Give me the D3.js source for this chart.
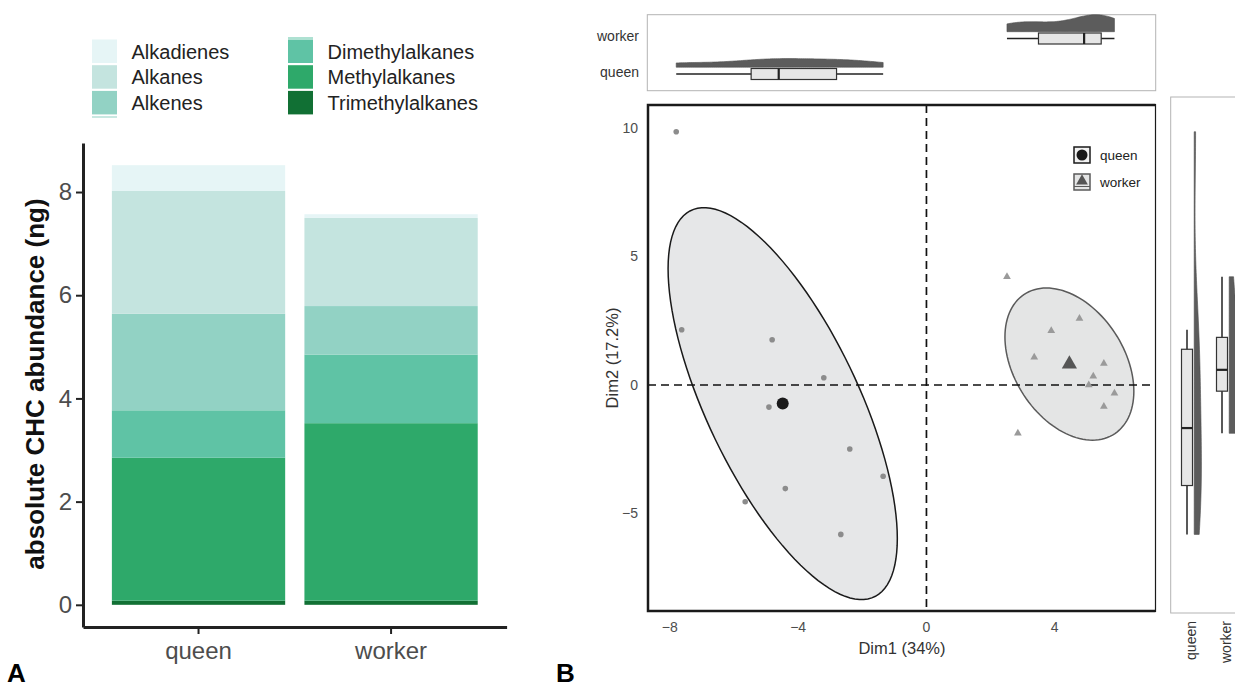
<!DOCTYPE html>
<meta charset="utf-8">
<script src="https://d3js.org/d3.v7.min.js"></script>
<style>
body { margin: 0; background: white; }
svg { font-family: 'Liberation Sans', Arial, sans-serif; }
</style>
<body>
<div id="fig"></div>
<script>
// ---- panel A: absolute CHC abundance (ng), stacked bottom-up
const groups = ["queen", "worker"];
const classes = ["Trimethylalkanes", "Methylalkanes", "Dimethylalkanes", "Alkenes", "Alkanes", "Alkadienes"];
const queenAbundance = [0.08, 2.77, 0.92, 1.87, 2.38, 0.50];
const workerAbundance = [0.08, 3.44, 1.33, 0.94, 1.71, 0.07];
const classColors = ["#117034", "#2ea96a", "#5fc3a5", "#92d2c4", "#c4e4df", "#e6f5f6"];
const legendOrder = ["Alkadienes", "Alkanes", "Alkenes", "Dimethylalkanes", "Methylalkanes", "Trimethylalkanes"];
const abundanceTicks = [0, 2, 4, 6, 8];

// ---- panel B: PCA individuals
const queenDim1 = [-7.80, -7.63, -4.81, -3.20, -4.91, -2.39, -1.35, -4.40, -5.65, -2.67];
const queenDim2 = [9.85, 2.15, 1.76, 0.28, -0.86, -2.49, -3.55, -4.03, -4.54, -5.81];
const workerDim1 = [2.51, 4.77, 3.89, 3.36, 5.53, 5.20, 5.06, 5.86, 5.53, 2.85];
const workerDim2 = [4.21, 2.59, 2.11, 1.08, 0.84, 0.34, 0.00, -0.32, -0.84, -1.88];
const dim1Ticks = [-8, -4, 0, 4];
const dim2Ticks = [-5, 0, 5, 10];

const svg = d3.select("#fig").append("svg").attr("width", 1235).attr("height", 688);

// ================= panel A =================
const table = groups.map((g, gi) => {
  const row = {group: g};
  const vals = gi == 0 ? queenAbundance : workerAbundance;
  classes.forEach((c, i) => row[c] = vals[i]);
  return row;
});
const color = d3.scaleOrdinal().domain(classes).range(classColors);

const xA = d3.scaleBand().domain(groups).range([83, 506.6]).paddingInner(0.1).paddingOuter(0.15);
const yA = d3.scaleLinear().domain([-0.43, 8.95]).range([627, 143]);

svg.append("g").selectAll("g")
  .data(d3.stack().keys(classes)(table))
  .join("g")
    .attr("fill", d => color(d.key))
  .selectAll("rect")
  .data(d => d)
  .join("rect")
    .attr("x", d => xA(d.data.group))
    .attr("width", xA.bandwidth())
    .attr("y", d => yA(d[1]))
    .attr("height", d => yA(d[0]) - yA(d[1]));

const axA = svg.append("g").attr("transform", "translate(83,0)")
  .call(d3.axisLeft(yA).tickValues(abundanceTicks).tickSize(7).tickSizeOuter(0).tickPadding(4));
const axAx = svg.append("g").attr("transform", "translate(0,627)")
  .call(d3.axisBottom(xA).tickSize(7).tickSizeOuter(0).tickPadding(8));
[axA, axAx].forEach(a => {
  a.select(".domain").attr("stroke", "#222").attr("stroke-width", 3);
  a.selectAll(".tick line").attr("stroke", "#222").attr("stroke-width", 2);
  a.selectAll(".tick text").attr("fill", "#4d4d4d").style("font-size", "24px");
});

svg.append("text")
  .attr("transform", "translate(43.5,384) rotate(-90)")
  .attr("text-anchor", "middle")
  .style("font-size", "26px").style("font-weight", "bold").attr("fill", "#111")
  .text("absolute CHC abundance (ng)");

// legend
const legA = svg.append("g");
legendOrder.forEach((c, i) => {
  const col = Math.floor(i / 3), row = i % 3;
  const lx = [92, 288][col], ly = 39.5 + row * 25.7;
  legA.append("rect").attr("x", lx).attr("y", ly).attr("width", 25).attr("height", 23.5).attr("fill", color(c));
  legA.append("text").attr("x", lx + 39.5).attr("y", ly + 19)
    .style("font-size", "20px").attr("fill", "#222").text(c);
});
// thin key edges that show in the original legend
legA.append("rect").attr("x", 92).attr("y", 116.5).attr("width", 25).attr("height", 1).attr("fill", color("Alkenes"));
legA.append("rect").attr("x", 288).attr("y", 37.5).attr("width", 25).attr("height", 1).attr("fill", color("Dimethylalkanes"));

svg.append("text").attr("x", 7).attr("y", 682).style("font-size", "26px").style("font-weight", "bold").text("A");
svg.append("text").attr("x", 556).attr("y", 682).style("font-size", "26px").style("font-weight", "bold").text("B");

// ================= panel B =================
const xB = d3.scaleLinear().domain([-8.68, 7.14]).range([648, 1155.5]);
const yB = d3.scaleLinear().domain([-8.79, 10.89]).range([611, 105]);

const queenPts = queenDim1.map((v, i) => ({x: v, y: queenDim2[i]}));
const workerPts = workerDim1.map((v, i) => ({x: v, y: workerDim2[i]}));

function ellipsePoints(xs, ys, r) {
  const mx = d3.mean(xs), my = d3.mean(ys), n = xs.length;
  const sxx = d3.sum(xs, v => (v - mx) ** 2) / (n - 1);
  const syy = d3.sum(ys, v => (v - my) ** 2) / (n - 1);
  const sxy = d3.sum(xs, (v, i) => (v - mx) * (ys[i] - my)) / (n - 1);
  const a = Math.sqrt(sxx), b = sxy / a, c = Math.sqrt(syy - b * b);
  return d3.range(120).map(i => {
    const t = 2 * Math.PI * i / 120;
    return [mx + r * a * Math.cos(t), my + r * (b * Math.cos(t) + c * Math.sin(t))];
  });
}
const ellipseScale = 1.66;
const ellLine = d3.line().x(d => xB(d[0])).y(d => yB(d[1])).curve(d3.curveLinearClosed);

svg.append("path").attr("d", ellLine(ellipsePoints(queenDim1, queenDim2, ellipseScale)))
  .attr("fill", "#e6e7e8").attr("stroke", "#1a1a1a").attr("stroke-width", 1.5);
svg.append("path").attr("d", ellLine(ellipsePoints(workerDim1, workerDim2, ellipseScale)))
  .attr("fill", "#e4e5e5").attr("stroke", "#5a5a5a").attr("stroke-width", 1.5);

// dashed reference lines
svg.append("line").attr("x1", 648).attr("x2", 1155.5).attr("y1", yB(0)).attr("y2", yB(0))
  .attr("stroke", "#111").attr("stroke-width", 1.7).attr("stroke-dasharray", "8,5");
svg.append("line").attr("x1", xB(0)).attr("x2", xB(0)).attr("y1", 105).attr("y2", 611)
  .attr("stroke", "#111").attr("stroke-width", 1.7).attr("stroke-dasharray", "8,5");

// individuals
svg.append("g").selectAll("circle").data(queenPts).join("circle")
  .attr("cx", d => xB(d.x)).attr("cy", d => yB(d.y)).attr("r", 2.8).attr("fill", "#8c8c8c");
const triSmall = d3.symbol(d3.symbolTriangle, 26);
svg.append("g").selectAll("path").data(workerPts).join("path")
  .attr("transform", d => `translate(${xB(d.x)},${yB(d.y)})`).attr("d", triSmall).attr("fill", "#9a9a9a");

// group means
svg.append("circle").attr("cx", xB(d3.mean(queenDim1))).attr("cy", yB(d3.mean(queenDim2)))
  .attr("r", 6).attr("fill", "#1a1a1a");
svg.append("path").attr("transform", `translate(${xB(d3.mean(workerDim1))},${yB(d3.mean(workerDim2))})`)
  .attr("d", d3.symbol(d3.symbolTriangle, 100)).attr("fill", "#555");

// frame
const frame = svg.append("g").attr("stroke", "#1a1a1a").attr("fill", "none");
frame.append("path").attr("d", "M1155.5,105H648V611H1155.5").attr("stroke-width", 2.5);
frame.append("line").attr("x1", 1155.5).attr("x2", 1155.5).attr("y1", 104).attr("y2", 612).attr("stroke-width", 1.2);

// tick labels + titles
const minus = d => d3.format("")(d).replace("-", "\u2212");
svg.append("g").selectAll("text").data(dim2Ticks).join("text")
  .attr("x", 638).attr("y", d => yB(d)).attr("dy", "0.35em").attr("text-anchor", "end")
  .style("font-size", "14px").attr("fill", "#4d4d4d").text(minus);
svg.append("g").selectAll("text").data(dim1Ticks).join("text")
  .attr("x", d => xB(d)).attr("y", 632).attr("text-anchor", "middle")
  .style("font-size", "14px").attr("fill", "#4d4d4d").text(minus);
svg.append("text").attr("x", 902).attr("y", 654).attr("text-anchor", "middle")
  .style("font-size", "16.5px").attr("fill", "#333").text("Dim1 (34%)");
svg.append("text").attr("transform", "translate(618,358) rotate(-90)").attr("text-anchor", "middle")
  .style("font-size", "16.5px").attr("fill", "#333").text("Dim2 (17.2%)");

// legend B
const legB = svg.append("g");
legB.append("rect").attr("x", 1074).attr("y", 147).attr("width", 16).attr("height", 16)
  .attr("fill", "#f2f2f2").attr("stroke", "#1a1a1a").attr("stroke-width", 1.5);
legB.append("circle").attr("cx", 1082).attr("cy", 155).attr("r", 5.5).attr("fill", "#1a1a1a");
legB.append("rect").attr("x", 1074).attr("y", 174).attr("width", 16).attr("height", 16)
  .attr("fill", "#e4e5e5").attr("stroke", "#5a5a5a").attr("stroke-width", 1.5);
legB.append("path").attr("transform", "translate(1082,181)").attr("d", d3.symbol(d3.symbolTriangle, 60)).attr("fill", "#555");
legB.append("line").attr("x1", 1074).attr("x2", 1090).attr("y1", 186.5).attr("y2", 186.5).attr("stroke", "#5a5a5a").attr("stroke-width", 1);
legB.append("text").attr("x", 1100).attr("y", 155).attr("dy", "0.35em").style("font-size", "13.5px").attr("fill", "#222").text("queen");
legB.append("text").attr("x", 1100).attr("y", 182).attr("dy", "0.35em").style("font-size", "13.5px").attr("fill", "#222").text("worker");

// ---- marginal distributions (boxplot + half violin)
function boxStats(v) {
  const s = v.slice().sort(d3.ascending);
  const q1 = d3.quantileSorted(s, 0.25), med = d3.quantileSorted(s, 0.5), q3 = d3.quantileSorted(s, 0.75);
  const iqr = q3 - q1;
  return {q1, med, q3,
    lo: d3.min(s.filter(d => d >= q1 - 1.5 * iqr)),
    hi: d3.max(s.filter(d => d <= q3 + 1.5 * iqr))};
}
function kde(v) {
  const bw = 0.9 * Math.min(d3.deviation(v), (d3.quantile(v, 0.75) - d3.quantile(v, 0.25)) / 1.34) * Math.pow(v.length, -0.2);
  const [lo, hi] = d3.extent(v);
  return d3.range(101).map(i => {
    const t = lo + (hi - lo) * i / 100;
    return [t, d3.mean(v, x => Math.exp(-0.5 * ((t - x) / bw) ** 2)) / (bw * Math.sqrt(2 * Math.PI))];
  });
}
const violinWidth = 17;
const groupDim1 = {queen: queenDim1, worker: workerDim1};
const groupDim2 = {queen: queenDim2, worker: workerDim2};

// top: Dim1
svg.append("rect").attr("x", 647.3).attr("y", 14.7).attr("width", 508.4).attr("height", 76)
  .attr("fill", "none").attr("stroke", "#b3b3b3").attr("stroke-width", 1);
const yTop = d3.scalePoint().domain(["worker", "queen"]).range([38.5, 74]);
const densTop = groups.map(g => kde(groupDim1[g]));
const kTop = violinWidth / d3.max(densTop, d => d3.max(d, p => p[1]));
groups.forEach((g, gi) => {
  const cy = yTop(g), st = boxStats(groupDim1[g]);
  const base = cy - 6.8;
  svg.append("path").datum(densTop[gi])
    .attr("d", d3.area().x(p => xB(p[0])).y0(base).y1(p => base - p[1] * kTop))
    .attr("fill", "#5c5c5c").attr("stroke", "#4d4d4d").attr("stroke-width", 0.6);
  svg.append("line").attr("x1", xB(st.lo)).attr("x2", xB(st.hi)).attr("y1", cy).attr("y2", cy)
    .attr("stroke", "#222").attr("stroke-width", 1.5);
  svg.append("rect").attr("x", xB(st.q1)).attr("width", xB(st.q3) - xB(st.q1)).attr("y", cy - 5.5).attr("height", 11)
    .attr("fill", "#e6e6e6").attr("stroke", "#333").attr("stroke-width", 1.2);
  svg.append("line").attr("x1", xB(st.med)).attr("x2", xB(st.med)).attr("y1", cy - 5.5).attr("y2", cy + 5.5)
    .attr("stroke", "#222").attr("stroke-width", 2.2);
  svg.append("text").attr("x", 639).attr("y", cy - 2).attr("dy", "0.35em").attr("text-anchor", "end")
    .style("font-size", "14px").attr("fill", "#333").text(g);
});

// right: Dim2
svg.append("rect").attr("x", 1170.7).attr("y", 97).attr("width", 90).attr("height", 516)
  .attr("fill", "none").attr("stroke", "#b3b3b3").attr("stroke-width", 1);
const xRight = d3.scalePoint().domain(groups).range([1187, 1222]);
const densRight = groups.map(g => kde(groupDim2[g]));
const kRight = violinWidth / d3.max(densRight, d => d3.max(d, p => p[1]));
groups.forEach((g, gi) => {
  const cx = xRight(g), st = boxStats(groupDim2[g]);
  const base = cx + 7.2;
  svg.append("path").datum(densRight[gi])
    .attr("d", d3.area().y(p => yB(p[0])).x0(base).x1(p => base + p[1] * kRight))
    .attr("fill", "#5c5c5c").attr("stroke", "#4d4d4d").attr("stroke-width", 0.6);
  svg.append("line").attr("y1", yB(st.lo)).attr("y2", yB(st.hi)).attr("x1", cx).attr("x2", cx)
    .attr("stroke", "#222").attr("stroke-width", 1.5);
  svg.append("rect").attr("y", yB(st.q3)).attr("height", yB(st.q1) - yB(st.q3)).attr("x", cx - 5.5).attr("width", 11)
    .attr("fill", "#e6e6e6").attr("stroke", "#333").attr("stroke-width", 1.2);
  svg.append("line").attr("y1", yB(st.med)).attr("y2", yB(st.med)).attr("x1", cx - 5.5).attr("x2", cx + 5.5)
    .attr("stroke", "#222").attr("stroke-width", 2.2);
  svg.append("text").attr("transform", `translate(${cx + 4},621) rotate(-90)`).attr("dy", "0.35em")
    .attr("text-anchor", "end").style("font-size", "14px").attr("fill", "#333").text(g);
});
</script>
</body>
